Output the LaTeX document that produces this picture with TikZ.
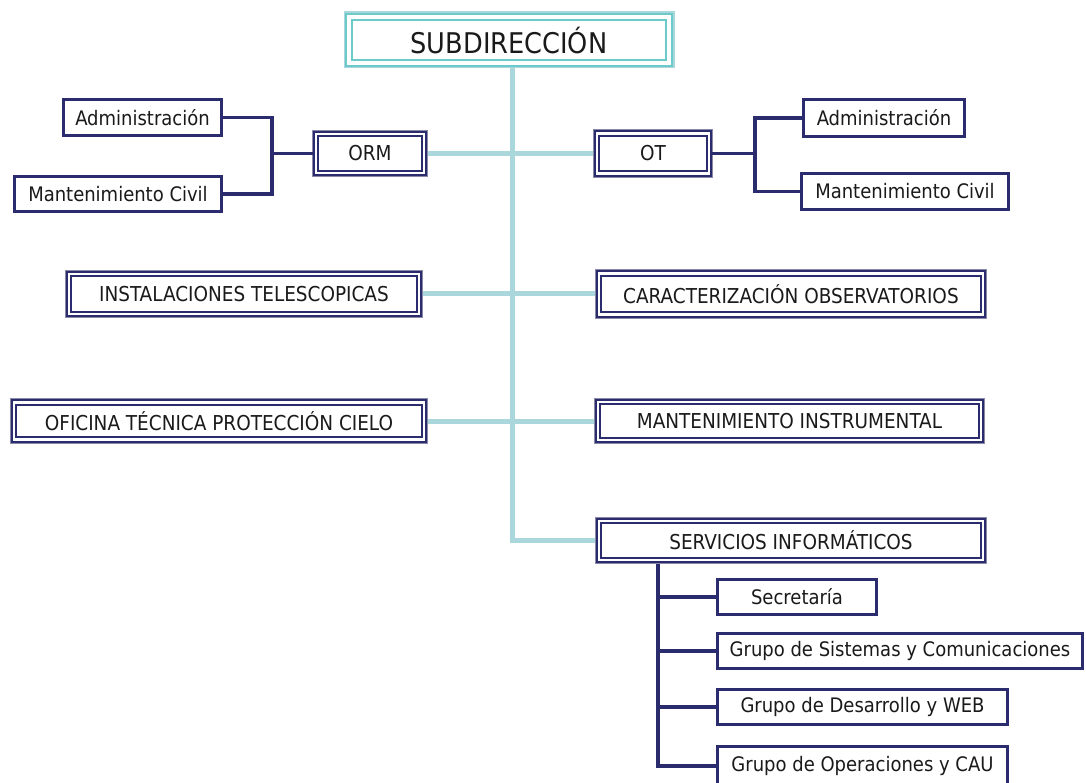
\documentclass[tikz,border=0pt]{standalone}
\usepackage{fontspec}
\setmainfont{DejaVu Sans Condensed}
\usetikzlibrary{backgrounds}
\definecolor{navy}{HTML}{2B2C6E}
\definecolor{tealline}{HTML}{A9D7DB}
\definecolor{tealframe}{HTML}{6CCACB}
\definecolor{outergray}{HTML}{8A8AA8}
\definecolor{txt}{HTML}{1A1A1A}
\begin{document}
\begin{tikzpicture}[x=1pt,y=-1pt,
  box/.style={draw=navy, line width=3pt, fill=white, inner sep=0pt, text=txt, font=\fontsize{20}{23}\selectfont},
  dbox/.style={draw=navy, line width=2pt, double=white, double distance=2.5pt, fill=white, inner sep=0pt, text=txt,
    preaction={draw=outergray, line width=8.5pt}, font=\fontsize{20.5}{23}\selectfont},
  topbox/.style={draw=tealframe, line width=2.5pt, double=white, double distance=3.5pt, fill=white, inner sep=0pt, text=txt,
    preaction={draw=tealline, line width=11pt}, font=\fontsize{28.5}{32}\selectfont},
  tline/.style={draw=tealline, line width=5pt},
  nline/.style={draw=navy, line width=3.2pt}
]
\useasboundingbox (0,0) rectangle (1086,783);
\clip (0,0) rectangle (1086,783);

\node[topbox, minimum width=320pt, minimum height=46pt] (sub) at (509,40) {SUBDIRECCIÓN};
\coordinate (tk) at (512,540.5);

\node[dbox, minimum width=108pt, minimum height=39pt] (orm) at (370,153.5) {ORM};
\node[dbox, minimum width=112pt, minimum height=40pt] (ot) at (653,153.5) {OT};
\node[dbox, minimum width=350pt, minimum height=40pt] (inst) at (244,294) {INSTALACIONES TELESCOPICAS};
\node[dbox, minimum width=384pt, minimum height=41pt] (car) at (791,294) {CARACTERIZACIÓN OBSERVATORIOS};
\node[dbox, minimum width=410pt, minimum height=37pt] (ofi) at (219,421) {OFICINA TÉCNICA PROTECCIÓN CIELO};
\node[dbox, minimum width=383pt, minimum height=38pt] (mant) at (789.5,421) {MANTENIMIENTO INSTRUMENTAL};
\node[dbox, minimum width=384pt, minimum height=39pt] (serv) at (791,540.5) {SERVICIOS INFORMÁTICOS};

\begin{pgfonlayer}{background}
\fill[white] (0,0) rectangle (1086,783);
\draw[tline] (sub.south -| tk) -- (tk) -- (serv.west);
\draw[tline] (orm.east) -- (ot.west);
\draw[tline] (inst.east) -- (car.west);
\draw[tline] (ofi.east) -- (mant.west);
\end{pgfonlayer}

\node[box, minimum width=158pt, minimum height=36pt] (admL) at (142.5,117.5) {Administración};
\node[box, minimum width=207pt, minimum height=35pt] (manL) at (118,194) {Mantenimiento Civil};
\node[box, minimum width=161pt, minimum height=37pt] (admR) at (884,118) {Administración};
\node[box, minimum width=207pt, minimum height=36pt] (manR) at (905,191.5) {Mantenimiento Civil};

\coordinate (jl) at (272,153.5);
\draw[nline] (admL.east) -| (jl);
\draw[nline] (manL.east) -| (jl);
\draw[nline] (jl) -- (orm.west);
\coordinate (jr) at (755,153.5);
\draw[nline] (ot.east) -- (jr);
\draw[nline] (admR.west) -| (jr);
\draw[nline] (manR.west) -| (jr);

\node[box, minimum width=159pt, minimum height=35pt] (sec) at (797,597) {Secretaría};
\node[box, minimum width=365pt, minimum height=35pt] (sis) at (900,651) {Grupo de Sistemas y Comunicaciones};
\node[box, minimum width=290pt, minimum height=35pt] (des) at (862.5,707) {Grupo de Desarrollo y WEB};
\node[box, minimum width=290pt, minimum height=40pt] (ope) at (862.5,766) {\raisebox{3pt}{Grupo de Operaciones y CAU}};

\coordinate (sv) at (658,564);
\draw[nline] (sv) |- (sec.west);
\draw[nline] (sv) |- (sis.west);
\draw[nline] (sv) |- (des.west);
\draw[nline] (sv) |- (ope.west);
\end{tikzpicture}
\end{document}
